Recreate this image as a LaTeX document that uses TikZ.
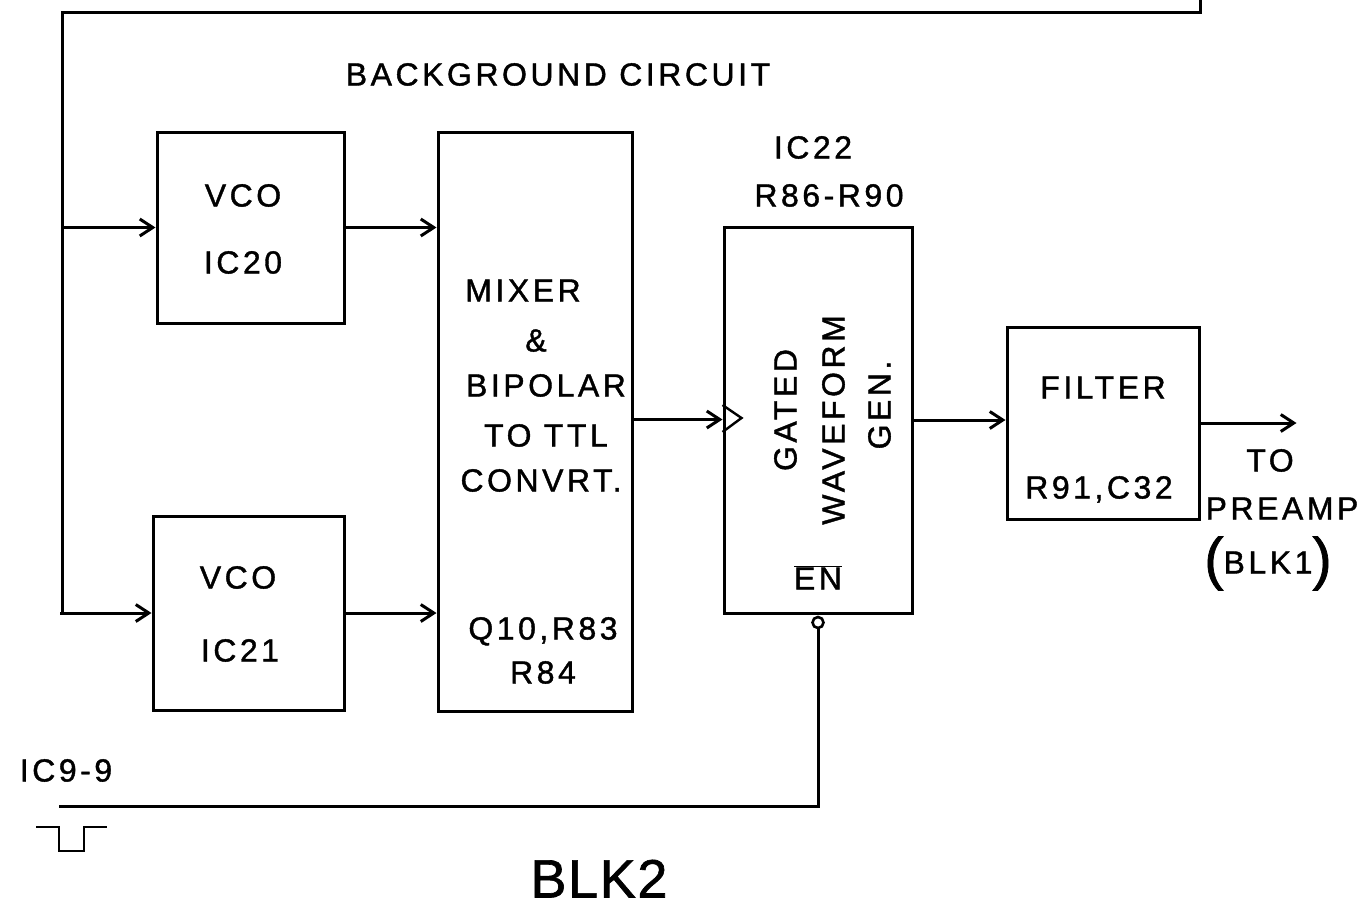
\documentclass[tikz,border=0pt]{standalone}
\usepackage{fontspec}
\setmainfont{Liberation Sans}[LetterSpace=11,FakeBold=1.2]
\usetikzlibrary{arrows.meta}
\begin{document}
\begin{tikzpicture}[x=1pt,y=-1pt,line width=3pt,
  blockbox/.style={draw,inner sep=0pt},
  txt/.style={font=\fontsize{32}{36}\selectfont,inner sep=0pt,text height=23pt,text depth=0pt},
  bigtxt/.style={font=\fontsize{54}{58}\selectfont\addfontfeature{LetterSpace=3},inner sep=0pt,text height=39pt,text depth=0pt},
  arr/.style={-{Straight Barb[length=13pt,width=17pt,line width=3pt]}}]
\useasboundingbox (0,0) rectangle (1361,908);
% blocks
\node[blockbox,minimum width=187pt,minimum height=191pt] (vco1) at (250.5,227.5) {};
\node[blockbox,minimum width=191pt,minimum height=194pt] (vco2) at (248.5,613) {};
\node[blockbox,minimum width=194pt,minimum height=579pt] (mix) at (535,421.5) {};
\node[blockbox,minimum width=188pt,minimum height=386pt] (gate) at (818,420) {};
\node[blockbox,minimum width=192pt,minimum height=192pt] (filt) at (1103,423) {};
% texts
\node[txt] (bg) at (558,74) {BACKGROUND CIRCUIT};
\node[txt] (vcoA) at (243,195) {VCO};
\node[txt] (icA) at (243,262) {IC20};
\node[txt] (vcoB) at (238,577) {VCO};
\node[txt] (icB) at (240,650) {IC21};
\node[txt] (m1) at (523,290) {MIXER};
\node[txt] (m2) at (536,340) {\&};
\node[txt] (m3) at (546,385) {BIPOLAR};
\node[txt] (m4) at (546,435) {TO TTL};
\node[txt] (m5) at (541,480) {CONVRT.};
\node[txt] (m6) at (543,628) {Q10,R83};
\node[txt] (m7) at (543,672) {R84};
\node[txt] (ic22) at (813,147) {IC22};
\node[txt] (rr) at (829,195) {R86-R90};
\node[txt,rotate=90] (g1) at (785,410) {GATED};
\node[txt,rotate=90] (g2) at (833,420) {WAVEFORM};
\node[txt,rotate=90] (g3) at (879,405) {GEN.};
\node[txt] (en) at (818,578) {$\overline{\mbox{EN}}$};
\node[txt] (f1) at (1103,387) {FILTER};
\node[txt] (f2) at (1099,487) {R91,C32};
\node[txt] (to) at (1270,460) {TO};
\node[txt] (pre) at (1282,508) {PREAMP};
\node[txt] (blk1) at (1268,562) {\raisebox{-5pt}{\fontsize{58}{58}\selectfont(}BLK1\raisebox{-5pt}{\fontsize{58}{58}\selectfont)}};
\node[txt] (ic9) at (66,770) {IC9-9};
\node[bigtxt] (blk2) at (599,878) {BLK2};
% coordinates
\coordinate (topEnd) at (1200,0);
\coordinate (topR) at (1200,12);
\coordinate (topL) at (62,12);
\coordinate (bub) at ([yshift=-8pt]gate.south);
\coordinate (enC) at (818,806);
\coordinate (enL) at (59,806);
\coordinate (outE) at ([xshift=96pt]filt.east);
% bus
\draw (topEnd) -- (topR) -- (topL) -- (topL |- vco2.west) -- (vco2.west -| 60,0);
\draw[arr] (topL |- vco2.west) -- (vco2.west);
\draw[arr] (topL |- vco1.west) -- (vco1.west);
% signal path
\draw[arr] (vco1.east) -- (vco1.east -| mix.west);
\draw[arr] (vco2.east) -- (vco2.east -| mix.west);
\draw[arr] ([yshift=2pt]mix.east) -- ([yshift=2pt]mix.east -| gate.west);
\draw[line width=2.4pt,line join=miter] ([yshift=15pt]gate.west) -- ([xshift=19pt,yshift=2pt]gate.west) -- ([yshift=-12pt]gate.west);
\draw[arr] (gate.east) -- (gate.east -| filt.west);
\draw[arr] (filt.east) -- (outE);
% enable
\draw[line width=2.6pt] (bub) circle (5.5pt);
\draw ([yshift=-5.5pt]bub) -- (enC) -- (enL);
\draw[line width=2.4pt] (36,827) -- (59,827) -- (59,851) -- (84,851) -- (84,827) -- (107,827);
\end{tikzpicture}
\end{document}
